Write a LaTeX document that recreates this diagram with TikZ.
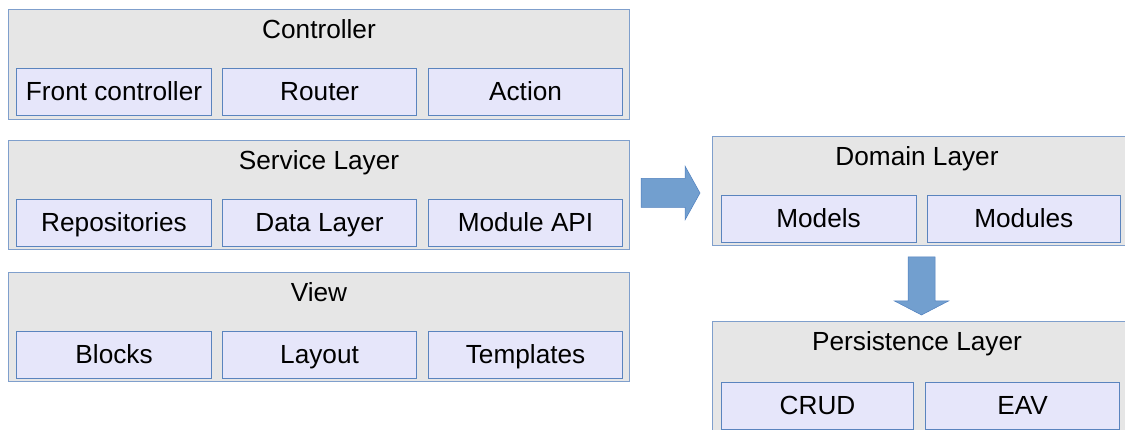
\documentclass[tikz,border=0pt]{standalone}
\usepackage{fontspec}
\setmainfont{Liberation Sans}
\definecolor{outerfill}{HTML}{E6E6E6}
\definecolor{outerline}{HTML}{7F9FCC}
\definecolor{partfill}{HTML}{E6E6FA}
\definecolor{partline}{HTML}{5A84BE}
\definecolor{arrowfill}{HTML}{729FCF}
\definecolor{arrowline}{HTML}{4F7FBE}
\begin{document}
\begin{tikzpicture}[x=1pt,y=-1pt,
  layer/.style={draw=outerline, fill=outerfill, line width=1pt, anchor=north west, inner sep=0pt, minimum height=110pt},
  part/.style={draw=partline, fill=partfill, line width=1.1pt, anchor=north west, inner sep=0pt, minimum height=47pt, font=\fontsize{26.2}{30}\selectfont, text height=21pt, text depth=3.5pt},
  ttl/.style={font=\fontsize{26.2}{30}\selectfont, anchor=center, inner sep=0pt, text height=21pt, text depth=3.5pt},
  blockarrow/.style={fill=arrowfill, draw=arrowline, line width=0.5pt, line join=miter}]
\useasboundingbox (0,0) rectangle (1125,430);
\clip (0,0) rectangle (1125,430);

% Controller
\node[layer, minimum width=621pt] (ctrl) at (8,9) {};
\node[ttl] (ctrlT) at ([yshift=-20.5pt]ctrl.north) {Controller};
\node[part, minimum width=195pt] (front) at (16,68) {Front controller};
\node[part, minimum width=194pt] (router) at (222,68) {Router};
\node[part, minimum width=194pt] (action) at (428,68) {Action};

% Service Layer
\node[layer, minimum width=621pt, minimum height=109pt] (serv) at (8,140) {};
\node[ttl] (servT) at ([yshift=-20.5pt]serv.north) {Service Layer};
\node[part, minimum width=195pt] (repo) at (16,199) {Repositories};
\node[part, minimum width=194pt] (data) at (222,199) {Data Layer};
\node[part, minimum width=194pt] (mapi) at (428,199) {Module API};

% View
\node[layer, minimum width=621pt, minimum height=109.5pt] (view) at (8,272) {};
\node[ttl] (viewT) at ([yshift=-20.5pt]view.north) {View};
\node[part, minimum width=195pt] (blocks) at (16,331) {Blocks};
\node[part, minimum width=194pt] (layout) at (222,331) {Layout};
\node[part, minimum width=194pt] (templ) at (428,331) {Templates};

% Domain Layer
\node[layer, minimum width=420pt, minimum height=109.5pt] (dom) at (712,136) {};
\node[ttl] (domT) at (917,156.5) {Domain Layer};
\node[part, minimum width=195pt] (models) at (720.5,195) {Models};
\node[part, minimum width=192.5pt] (modules) at (927,195) {Modules};

% Persistence Layer
\node[layer, minimum width=420pt, minimum height=130pt] (pers) at (712,321) {};
\node[ttl] (persT) at (917,342) {Persistence Layer};
\node[part, minimum width=192pt, minimum height=46.5pt] (crud) at (721,382) {CRUD};
\node[part, minimum width=194pt, minimum height=46.5pt] (eav) at (925,382) {EAV};

% Right block arrow (Service Layer -> Domain Layer)
\coordinate (ra) at (641,193);
\draw[blockarrow] (ra) ++(0,-14.5) -- ++(44,0) -- ++(0,-12.5) -- ++(15,27)
  -- ++(-15,27) -- ++(0,-12.5) -- ++(-44,0) -- cycle;

% Down block arrow (Domain Layer -> Persistence Layer)
\coordinate (da) at (921.5,257);
\draw[blockarrow] (da) ++(-13.5,0) -- ++(27,0) -- ++(0,44) -- ++(13.5,0) -- ++(-27,14)
  -- ++(-27,-14) -- ++(13.5,0) -- cycle;
\end{tikzpicture}
\end{document}
